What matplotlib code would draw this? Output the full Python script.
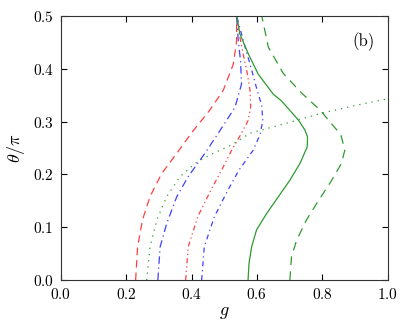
import matplotlib
matplotlib.use('Agg')
import matplotlib.pyplot as plt

plt.rcParams['font.family'] = ['cmr10', 'DejaVu Serif']
plt.rcParams['mathtext.fontset'] = 'cm'
plt.rcParams['axes.formatter.use_mathtext'] = True

# curves: theta/pi values and g values
red1_t = [0.0, 0.063, 0.114, 0.158, 0.202, 0.24, 0.281, 0.321, 0.359, 0.409, 0.453, 0.5]
red1_g = [0.229, 0.235, 0.250, 0.273, 0.309, 0.355, 0.403, 0.455, 0.497, 0.528, 0.538, 0.538]

blue1_t = [0.0, 0.063, 0.107, 0.158, 0.196, 0.24, 0.281, 0.327, 0.371, 0.415, 0.453, 0.5]
blue1_g = [0.297, 0.304, 0.324, 0.355, 0.390, 0.441, 0.485, 0.533, 0.553, 0.550, 0.543, 0.538]

red2_t = [0.0, 0.063, 0.12, 0.17, 0.208, 0.246, 0.278, 0.302, 0.328, 0.359, 0.39, 0.428, 0.466, 0.5]
red2_g = [0.382, 0.390, 0.419, 0.459, 0.492, 0.523, 0.553, 0.573, 0.581, 0.579, 0.571, 0.558, 0.546, 0.538]

blue2_t = [0.0, 0.063, 0.12, 0.17, 0.208, 0.246, 0.276, 0.302, 0.33, 0.359, 0.409, 0.441, 0.5]
blue2_g = [0.431, 0.439, 0.470, 0.511, 0.545, 0.589, 0.610, 0.618, 0.615, 0.601, 0.579, 0.564, 0.538]

gdot_t = [0.0, 0.063, 0.114, 0.158, 0.196, 0.221, 0.237, 0.256, 0.278, 0.297, 0.316, 0.331, 0.343]
gdot_g = [0.263, 0.273, 0.294, 0.324, 0.365, 0.411, 0.457, 0.523, 0.579, 0.691, 0.798, 0.905, 1.0]

gsol_t = [0.0, 0.032, 0.063, 0.095, 0.126, 0.158, 0.189, 0.221, 0.252, 0.271, 0.284, 0.303,
          0.34, 0.352, 0.39, 0.428, 0.466, 0.5]
gsol_g = [0.573, 0.576, 0.584, 0.599, 0.630, 0.666, 0.701, 0.732, 0.754, 0.755, 0.747, 0.727,
          0.674, 0.650, 0.604, 0.574, 0.548, 0.538]

gdash_t = [0.0, 0.044, 0.076, 0.114, 0.145, 0.189, 0.221, 0.246, 0.275, 0.322, 0.354, 0.391,
           0.441, 0.5]
gdash_g = [0.701, 0.706, 0.722, 0.752, 0.783, 0.829, 0.859, 0.869, 0.857, 0.793, 0.737, 0.681,
           0.635, 0.615]

red = '#ff4040'
blue = '#4040ff'
green = '#2e9a2e'

fig = plt.figure(figsize=(4.08, 3.26), dpi=100)
ax = fig.add_axes([0.149, 0.141, 0.801, 0.810])

lw = 0.9
ax.plot(red1_g, red1_t, color=red, lw=lw, dashes=(6, 4))
ax.plot(blue1_g, blue1_t, color=blue, lw=lw, dashes=(6, 3, 1, 3))
ax.plot(red2_g, red2_t, color=red, lw=lw, dashes=(4, 2.5, 1, 2.5, 1, 2.5))
ax.plot(blue2_g, blue2_t, color=blue, lw=lw, dashes=(4, 3, 1, 3))
ax.plot(gdot_g, gdot_t, color=green, lw=lw, dashes=(1, 4))
ax.plot(gsol_g, gsol_t, color=green, lw=lw)
ax.plot(gdash_g, gdash_t, color=green, lw=lw, dashes=(7, 5))

ax.set_xlim(0, 1)
ax.set_ylim(0, 0.5)
ax.set_xticks([0.0, 0.2, 0.4, 0.6, 0.8, 1.0])
ax.set_yticks([0.0, 0.1, 0.2, 0.3, 0.4, 0.5])
ax.tick_params(direction='in', top=True, right=True, length=4, labelsize=11, pad=5)
for s in ax.spines.values():
    s.set_color('#333333')
ax.set_xlabel('$g$', fontsize=13, labelpad=2)
ax.set_ylabel(r'$\theta/\pi$', fontsize=13, labelpad=4)
ax.text(0.925, 0.451, '(b)', fontsize=12, ha='center', va='center')

fig.savefig('out.png', dpi=100)
